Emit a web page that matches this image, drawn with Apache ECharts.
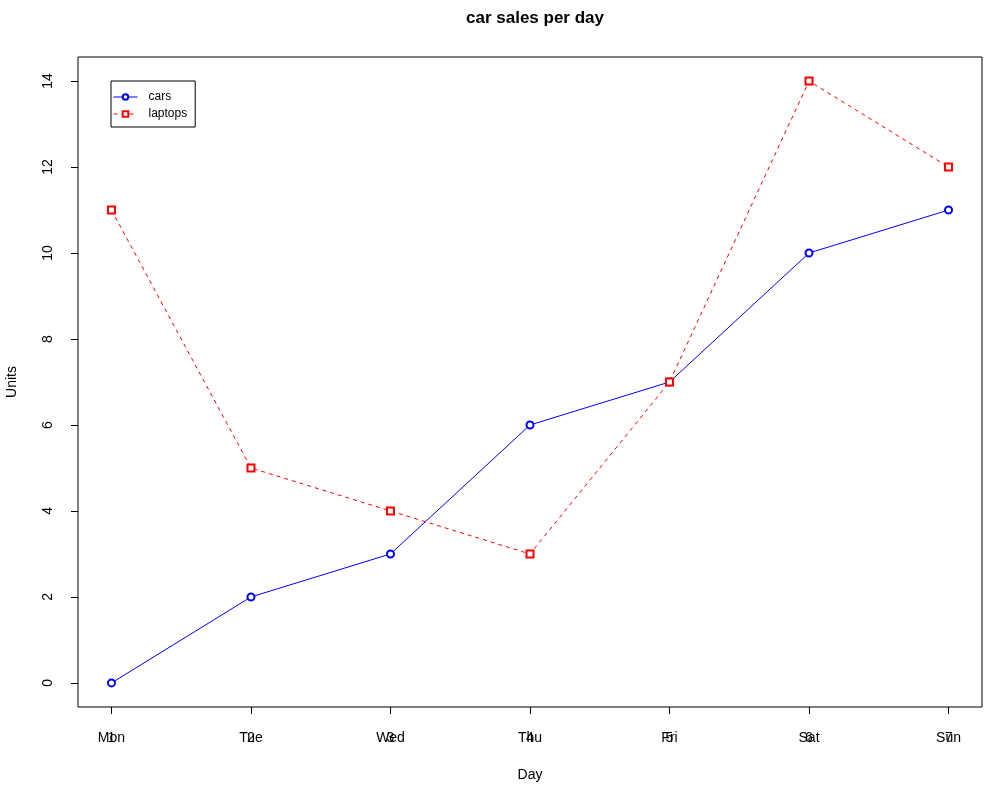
<!DOCTYPE html>
<html>
<head>
<meta charset="utf-8">
<script src="https://cdn.jsdelivr.net/npm/echarts@6/dist/echarts.min.js"></script>
<style>html,body{margin:0;padding:0;background:#fff;}#c{width:1002px;height:789px;}</style>
</head>
<body>
<div id="c"></div>
<script>
var dayIndex = [1, 2, 3, 4, 5, 6, 7];
var days = ['Mon', 'Tue', 'Wed', 'Thu', 'Fri', 'Sat', 'Sun'];
var cars = [0, 2, 3, 6, 7, 10, 11];
var laptops = [11, 5, 4, 3, 7, 14, 12];
var yTicks = [0, 2, 4, 6, 8, 10, 12, 14];

var FONT = 'Liberation Sans, Arial, Helvetica, sans-serif';
var chart = echarts.init(document.getElementById('c'), null, {renderer: 'canvas'});

function pairs(vals) {
  return dayIndex.map(function (d, i) { return [d, vals[i]]; });
}

var baseX = {
  type: 'value',
  position: 'bottom',
  min: 0.76,
  max: 7.24,
  axisLine: {show: false, onZero: false},
  splitLine: {show: false},
  axisTick: {show: true, length: 7, customValues: dayIndex, lineStyle: {color: '#000', width: 1}},
  axisLabel: {customValues: dayIndex, color: '#000', fontSize: 14, fontFamily: FONT, margin: 24}
};

var option = {
  backgroundColor: '#fff',
  animation: false,
  title: {
    text: 'car sales per day',
    left: 530,
    top: 5,
    textAlign: 'center',
    textStyle: {fontSize: 17, fontWeight: 'bold', color: '#000', fontFamily: FONT}
  },
  legend: {
    left: 111,
    top: 81,
    orient: 'vertical',
    backgroundColor: '#fff',
    borderColor: '#000',
    borderWidth: 1,
    borderRadius: 0,
    padding: [10, 8, 7, 2],
    itemGap: 5,
    itemWidth: 24,
    itemHeight: 7,
    itemStyle: {borderWidth: 1},
    lineStyle: {width: 1},
    textStyle: {fontSize: 12, fontFamily: FONT, color: '#000', padding: [0, 0, 0, 6]},
    data: ['cars', 'laptops']
  },
  grid: {
    left: 78,
    right: 20,
    top: 57,
    bottom: 82,
    show: true,
    borderColor: '#000',
    borderWidth: 1,
    containLabel: false,
    outerBoundsMode: 'none'
  },
  xAxis: [
    Object.assign({}, baseX, {
      name: 'Day',
      nameLocation: 'middle',
      nameGap: 61,
      nameTextStyle: {fontSize: 14, color: '#000', fontFamily: FONT},
      axisLabel: Object.assign({}, baseX.axisLabel, {formatter: function (v) { return String(v); }})
    }),
    Object.assign({}, baseX, {
      axisTick: {show: false},
      axisLabel: Object.assign({}, baseX.axisLabel, {formatter: function (v) { return days[Math.round(v) - 1] || ''; }})
    })
  ],
  yAxis: {
    type: 'value',
    min: -0.56,
    max: 14.56,
    name: 'Units',
    nameLocation: 'middle',
    nameGap: 59,
    nameRotate: 90,
    nameTextStyle: {fontSize: 14, color: '#000', fontFamily: FONT},
    axisLine: {show: false, onZero: false},
    splitLine: {show: false},
    axisTick: {show: true, length: 7, customValues: yTicks, lineStyle: {color: '#000', width: 1}},
    axisLabel: {customValues: yTicks, rotate: 90, color: '#000', fontSize: 14, fontFamily: FONT, margin: 23}
  },
  series: [
    {
      name: 'cars',
      type: 'line',
      xAxisIndex: 0,
      data: pairs(cars),
      symbol: 'emptyCircle',
      symbolSize: 7,
      color: '#0000ff',
      lineStyle: {color: '#0000ff', width: 1},
      itemStyle: {color: '#0000ff', borderColor: '#0000ff', borderWidth: 1},
      z: 3
    },
    {
      name: 'laptops',
      type: 'line',
      xAxisIndex: 0,
      data: pairs(laptops),
      symbol: 'emptyRect',
      symbolSize: 7,
      color: '#ff0000',
      lineStyle: {color: '#ff0000', width: 1, type: [4, 4]},
      itemStyle: {color: '#ff0000', borderColor: '#ff0000', borderWidth: 1},
      z: 4
    }
  ]
};
chart.setOption(option);
</script>
</body>
</html>
